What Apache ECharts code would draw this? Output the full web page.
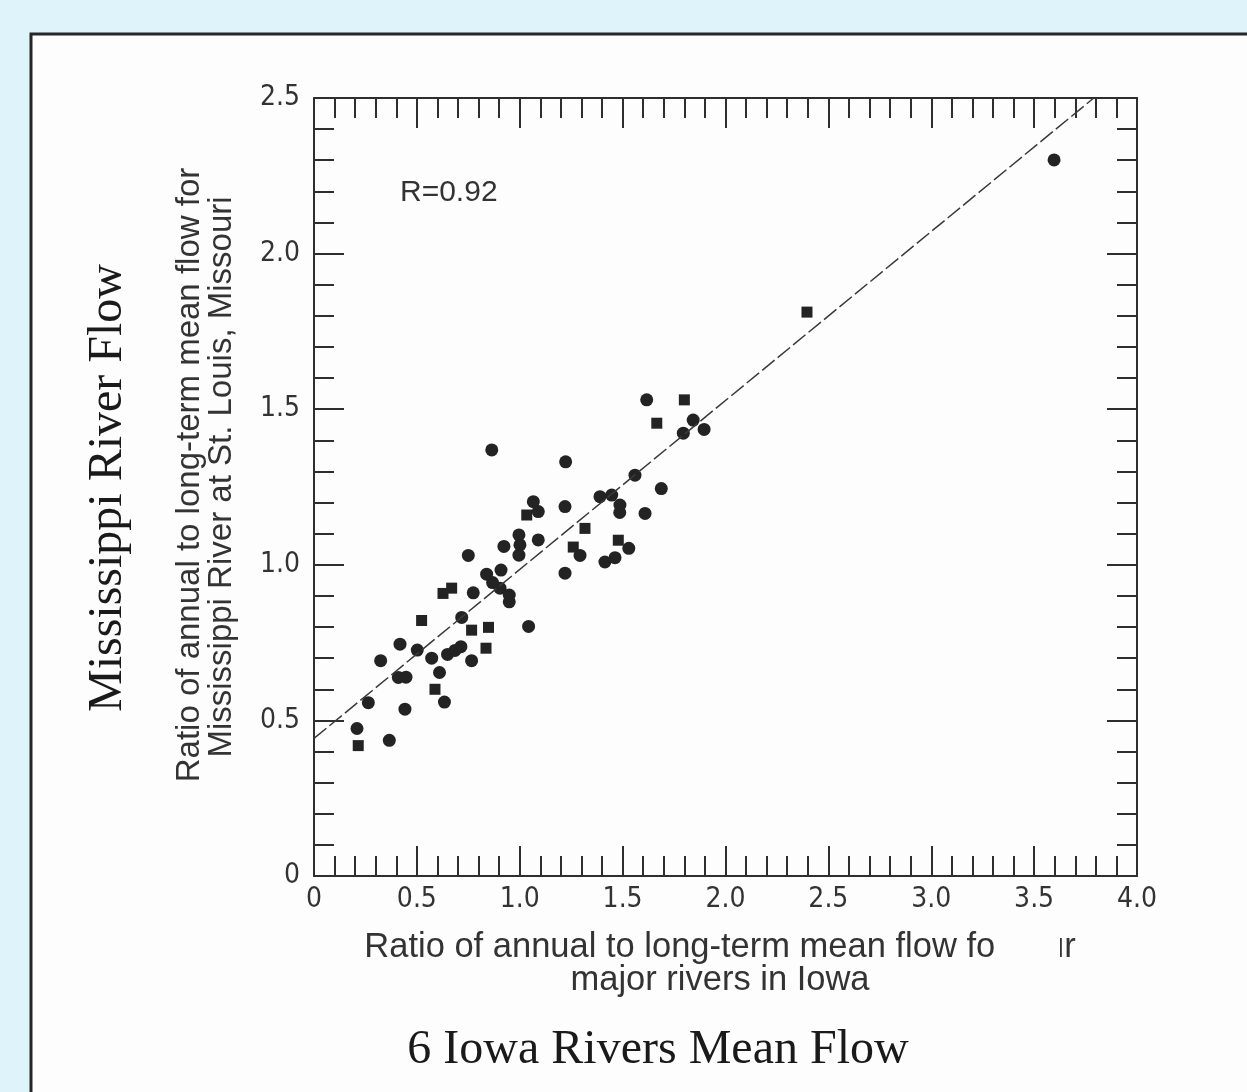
<!DOCTYPE html>
<html>
<head>
<meta charset="utf-8">
<script src="https://cdn.jsdelivr.net/npm/echarts@6/dist/echarts.min.js"></script>
<style>
  html, body { margin: 0; padding: 0; background: #dff3fb; }
  #flowChart { width: 1247px; height: 1092px; }
</style>
</head>
<body>
<div id="flowChart"></div>
<script>
// annual / long-term mean flow ratios
var circleX = [1.617, 1.843, 1.896, 1.795, 0.864, 1.223, 1.560, 1.688, 1.390, 1.447,
  1.487, 1.486, 1.609, 1.220, 1.066, 1.090, 0.996, 1.001, 0.996, 1.090,
  0.923, 0.750, 1.530, 1.293, 1.463, 1.414, 1.220, 0.909, 0.839, 0.868,
  0.904, 0.949, 0.949, 0.774, 0.718, 1.043, 0.766, 0.714, 0.685, 0.649,
  0.572, 0.502, 0.418, 0.324, 0.447, 0.410, 0.610, 0.634, 0.442, 0.264,
  0.209, 0.366, 3.597];
var circleY = [1.530, 1.465, 1.435, 1.423, 1.369, 1.331, 1.288, 1.245, 1.219, 1.224,
  1.192, 1.168, 1.165, 1.187, 1.203, 1.171, 1.096, 1.064, 1.031, 1.080,
  1.059, 1.030, 1.053, 1.030, 1.023, 1.009, 0.973, 0.983, 0.970, 0.943,
  0.925, 0.903, 0.881, 0.910, 0.831, 0.802, 0.692, 0.737, 0.725, 0.712,
  0.700, 0.726, 0.745, 0.692, 0.639, 0.638, 0.654, 0.559, 0.536, 0.557,
  0.474, 0.436, 2.301];
var squareX = [1.800, 1.666, 1.034, 1.317, 1.479, 1.260, 0.669, 0.627, 0.523, 0.766,
  0.848, 0.836, 0.588, 0.215, 2.396];
var squareY = [1.530, 1.455, 1.160, 1.117, 1.079, 1.057, 0.925, 0.908, 0.821, 0.790,
  0.799, 0.732, 0.600, 0.419, 1.812];
// regression line end points
var fitX = [0, 3.79];
var fitY = [0.442, 2.5];

var xTickLabels = ['0', '0.5', '1.0', '1.5', '2.0', '2.5', '3.0', '3.5', '4.0'];
var yTickLabels = ['0', '0.5', '1.0', '1.5', '2.0', '2.5'];

function pairs(xs, ys) {
  return xs.map(function (x, i) { return [x, ys[i]]; });
}

var ink = '#2e2e2e';
var tickFont = '"Liberation Sans Narrow", "DejaVu Sans Condensed", sans-serif';
var textFont = '"Liberation Sans", Arial, sans-serif';
var serifFont = '"Liberation Serif", "Times New Roman", serif';

function makeAxis(kind, pos, labels, showLabels) {
  return {
    type: 'value',
    position: pos,
    min: 0,
    max: kind === 'x' ? 4 : 2.5,
    interval: 0.5,
    axisLine: { show: true, onZero: false, lineStyle: { color: ink, width: 2 } },
    axisTick: { show: true, inside: true, length: 30, lineStyle: { color: ink, width: 2 } },
    minorTick: { show: true, splitNumber: 5, length: 20, lineStyle: { color: ink, width: 2 } },
    splitLine: { show: false },
    axisLabel: {
      show: showLabels,
      color: '#333',
      fontFamily: tickFont,
      fontSize: 28,
      margin: kind === 'x' ? 10 : 14,
      formatter: function (v) { return labels[Math.round(v / 0.5)]; }
    }
  };
}

var flowChart = echarts.init(document.getElementById('flowChart'));
var flowChartOptions = {
  animation: false,
  backgroundColor: '#dff3fb',
  grid: { left: 314, top: 98, width: 823, height: 778 },
  xAxis: [makeAxis('x', 'bottom', xTickLabels, true), makeAxis('x', 'top', xTickLabels, false)],
  yAxis: [makeAxis('y', 'left', yTickLabels, true), makeAxis('y', 'right', yTickLabels, false)],
  graphic: [
    {
      type: 'rect', z: -10,
      shape: { x: 31, y: 34, width: 1400, height: 1200 },
      style: { fill: '#fdfdfd', stroke: '#262626', lineWidth: 3 }
    },
    {
      type: 'text', z: 50, left: 400, top: 178,
      style: { text: 'R=0.92', font: '30px ' + textFont, fill: '#333' }
    },
    {
      type: 'text', z: 50, x: 720, y: 947,
      style: { text: 'Ratio of annual to long-term mean flow for four', font: '34.5px ' + textFont,
        fill: '#333', align: 'center', verticalAlign: 'middle' }
    },
    {
      // white patch over part of the title, as in the source figure
      type: 'rect', z: 60,
      shape: { x: 995, y: 926, width: 65, height: 40 },
      style: { fill: '#fdfdfd' }
    },
    {
      type: 'text', z: 50, x: 720, y: 980,
      style: { text: 'major rivers in Iowa', font: '34.5px ' + textFont,
        fill: '#333', align: 'center', verticalAlign: 'middle' }
    },
    {
      type: 'text', z: 50, x: 190, y: 475, rotation: Math.PI / 2,
      style: { text: 'Ratio of annual to long-term mean flow for', font: '33px ' + textFont,
        fill: '#333', align: 'center', verticalAlign: 'middle' }
    },
    {
      type: 'text', z: 50, x: 222, y: 477, rotation: Math.PI / 2,
      style: { text: 'Mississippi River at St. Louis, Missouri', font: '33px ' + textFont,
        fill: '#333', align: 'center', verticalAlign: 'middle' }
    },
    {
      type: 'text', z: 50, x: 108, y: 488, rotation: Math.PI / 2,
      style: { text: 'Mississippi River Flow', font: '48px ' + serifFont,
        fill: '#1a1a1a', align: 'center', verticalAlign: 'middle' }
    },
    {
      type: 'text', z: 50, x: 658, y: 1050,
      style: { text: '6 Iowa Rivers Mean Flow', font: '48px ' + serifFont,
        fill: '#1a1a1a', align: 'center', verticalAlign: 'middle' }
    }
  ],
  series: [
    {
      name: 'fit',
      type: 'line',
      data: pairs(fitX, fitY),
      symbol: 'none',
      silent: true,
      lineStyle: { color: '#3a3a3a', width: 1.5, type: [16, 4] }
    },
    {
      name: 'circles',
      type: 'scatter',
      data: pairs(circleX, circleY),
      symbol: 'circle',
      symbolSize: 13,
      itemStyle: { color: '#232323', opacity: 1 }
    },
    {
      name: 'squares',
      type: 'scatter',
      data: pairs(squareX, squareY),
      symbol: 'rect',
      symbolSize: 11,
      itemStyle: { color: '#232323', opacity: 1 }
    }
  ]
};

flowChart.setOption(flowChartOptions);
</script>
</body>
</html>
